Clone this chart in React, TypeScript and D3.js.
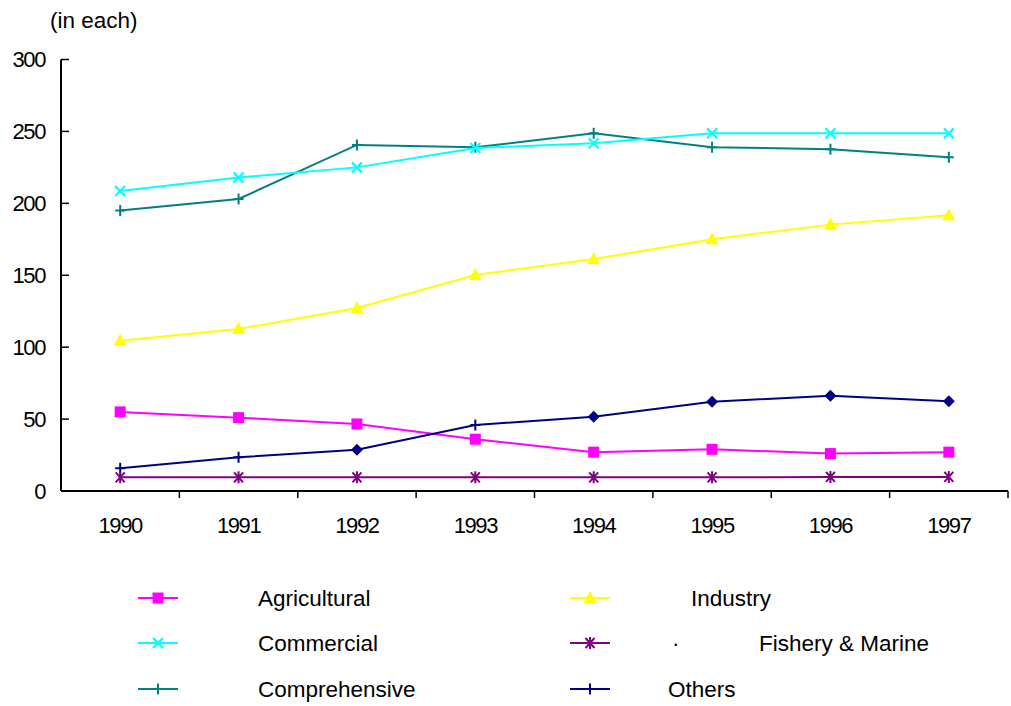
import React from "react";
import * as d3 from "d3";

const years = ["1990", "1991", "1992", "1993", "1994", "1995", "1996", "1997"];
const yTicks = [0, 50, 100, 150, 200, 250, 300];

const agricultural = [55, 51, 46.6, 36, 27, 29, 26, 27];
const industry = [104.5, 112.7, 127.3, 150.2, 161.3, 175, 185.2, 191.7];
const commercial = [208.6, 218, 225, 238.5, 241.8, 248.7, 248.7, 248.7];
const fishery = [9.5, 9.5, 9.5, 9.5, 9.5, 9.5, 9.8, 9.8];
const comprehensive = [195, 203, 240.6, 239, 248.7, 239, 237.6, 232];
const others = [15.8, 23.4, 28.7, 45.9, 51.7, 62.1, 66.3, 62.4];
const othersMarkers = ["plus", "plus", "diamond", "plus", "diamond", "diamond", "diamond", "diamond"];

type Series = { name: string; values: number[]; color: string; marker: string; markers?: string[] };

const series: Series[] = [
  { name: "Comprehensive", values: comprehensive, color: "#008080", marker: "plus" },
  { name: "Commercial", values: commercial, color: "#00FFFF", marker: "x" },
  { name: "Industry", values: industry, color: "#FFFF00", marker: "triangle" },
  { name: "Agricultural", values: agricultural, color: "#FF00FF", marker: "square" },
  { name: "Others", values: others, color: "#000080", marker: "plus", markers: othersMarkers },
  { name: "Fishery & Marine", values: fishery, color: "#800080", marker: "star" },
];

const W = 1011;
const H = 706;
const left = 61;
const right = 1008;
const top = 59.5;
const bottom = 491;
const FONT = "'Liberation Sans', Arial, sans-serif";
const FS = 22.5;
const NFS = 22;
const NLS = -1.4;

function Marker({ kind, x, y, color }: { kind: string; x: number; y: number; color: string }) {
  switch (kind) {
    case "square":
      return <rect x={x - 5.5} y={y - 5.5} width={11} height={11} fill={color} />;
    case "triangle":
      return <path d={`M${x},${y - 7}L${x + 6.5},${y + 5}L${x - 6.5},${y + 5}Z`} fill={color} />;
    case "x":
      return (
        <path d={`M${x - 5},${y - 5}L${x + 5},${y + 5}M${x - 5},${y + 5}L${x + 5},${y - 5}`} stroke={color} strokeWidth={2.2} />
      );
    case "plus":
      return (
        <path d={`M${x},${y - 5.5}L${x},${y + 5.5}M${x - 5},${y}L${x + 5},${y}`} stroke={color} strokeWidth={2} />
      );
    case "diamond":
      return <path d={`M${x},${y - 6}L${x + 6},${y}L${x},${y + 6}L${x - 6},${y}Z`} fill={color} />;
    case "star":
      return (
        <path
          d={`M${x - 4.5},${y - 5}L${x + 4.5},${y + 5}M${x - 4.5},${y + 5}L${x + 4.5},${y - 5}M${x},${y - 6}L${x},${y + 6}`}
          stroke={color}
          strokeWidth={2}
        />
      );
    default:
      return null;
  }
}

export default function App() {
  const x = d3.scaleBand<string>().domain(years).range([left, right]).padding(0);
  const y = d3.scaleLinear().domain([0, 300]).range([bottom, top]);
  const cx = (yr: string) => (x(yr) ?? 0) + x.bandwidth() / 2;
  const line = d3
    .line<number>()
    .x((_, i) => cx(years[i]))
    .y((d) => y(d));

  const boundaries = years.map((yr) => (x(yr) ?? 0) + x.bandwidth());

  const legendLeft = [
    { s: series[3], ty: 598, tx: 258 },
    { s: series[1], ty: 643, tx: 258 },
    { s: series[0], ty: 689, tx: 258 },
  ];
  const legendRight = [
    { s: series[2], ty: 598, tx: 691 },
    { s: series[5], ty: 643, tx: 759 },
    { s: series[4], ty: 689, tx: 668 },
  ];

  return (
    <svg
      width={W}
      height={H}
      style={{ position: "absolute", left: 0, top: 0, background: "#fff" }}
      fontFamily={FONT}
    >
      <rect width={W} height={H} fill="#fff" />
      <text x={50} y={20} dy="0.35em" fontSize={FS} fill="#000">
        (in each)
      </text>
      {/* y axis */}
      <line x1={left} x2={left} y1={top} y2={bottom} stroke="#000" strokeWidth={2} />
      {yTicks.map((t) => (
        <g key={t}>
          <line x1={left} x2={left + 8} y1={y(t)} y2={y(t)} stroke="#000" strokeWidth={1.5} />
          <text x={45} y={y(t)} dy="0.35em" textAnchor="end" fontSize={NFS} letterSpacing={NLS} fill="#000">
            {t}
          </text>
        </g>
      ))}
      {/* x axis */}
      <line x1={left} x2={right} y1={bottom} y2={bottom} stroke="#000" strokeWidth={2} />
      {boundaries.map((b, i) => (
        <line key={i} x1={b} x2={b} y1={bottom} y2={bottom + 7} stroke="#000" strokeWidth={1.5} />
      ))}
      {years.map((yr) => (
        <text key={yr} x={cx(yr)} y={525} dy="0.35em" textAnchor="middle" fontSize={NFS} letterSpacing={NLS} fill="#000">
          {yr}
        </text>
      ))}
      {/* series */}
      {series.map((s) => (
        <g key={s.name}>
          <path d={line(s.values) ?? ""} fill="none" stroke={s.color} strokeWidth={2} />
          {s.values.map((v, i) => (
            <Marker key={i} kind={s.markers ? s.markers[i] : s.marker} x={cx(years[i])} y={y(v)} color={s.color} />
          ))}
        </g>
      ))}
      {/* legend */}
      {legendLeft.map(({ s, ty, tx }) => (
        <g key={s.name}>
          <line x1={138} x2={178} y1={ty} y2={ty} stroke={s.color} strokeWidth={2} />
          <Marker kind={s.marker} x={158} y={ty} color={s.color} />
          <text x={tx} y={ty} dy="0.35em" fontSize={FS} fill="#000">
            {s.name}
          </text>
        </g>
      ))}
      {legendRight.map(({ s, ty, tx }) => (
        <g key={s.name}>
          <line x1={570} x2={610} y1={ty} y2={ty} stroke={s.color} strokeWidth={2} />
          <Marker kind={s.marker} x={590} y={ty} color={s.color} />
          <text x={tx} y={ty} dy="0.35em" fontSize={FS} fill="#000">
            {s.name}
          </text>
        </g>
      ))}
      <text x={672} y={643} dy="0.35em" fontSize={FS} fill="#000">
        ·
      </text>
    </svg>
  );
}
